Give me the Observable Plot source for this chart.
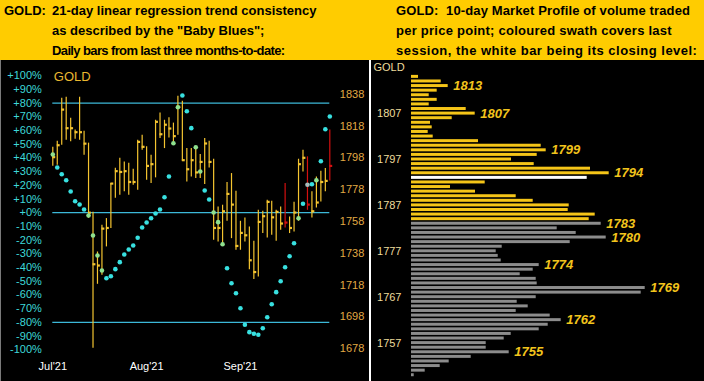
<!DOCTYPE html>
<html><head><meta charset="utf-8">
<script src="https://cdn.jsdelivr.net/npm/d3@7"></script>
<script src="https://cdn.jsdelivr.net/npm/@observablehq/plot@0.6"></script>
<style>
body{margin:0;background:#000;}
#wrap{position:relative;width:704px;height:381px;background:#000;overflow:hidden;font-family:"Liberation Sans",Arial,sans-serif;}
#hdr{position:absolute;left:0;top:0;width:704px;height:60px;background:#ffcc00;}
.h{position:absolute;top:1px;font-weight:bold;font-size:13px;line-height:20px;color:#000;white-space:pre;}
.h span{display:block;}
#divider{position:absolute;left:369px;top:60px;width:1.5px;height:321px;background:#fff;}
#edge{position:absolute;left:0;top:60px;width:1px;height:321px;background:#7a7a7a;}
</style></head><body>
<div id="wrap">
  <div id="hdr">
    <div class="h" style="left:4px">GOLD:</div>
    <div class="h" style="left:52px"><span>21-day linear regression trend consistency</span><span>as described by the "Baby Blues";</span><span style="letter-spacing:-0.62px">Daily bars from last three months-to-date:</span></div>
    <div class="h" style="left:396px"><span style="letter-spacing:0.13px">GOLD:  10-day Market Profile of volume traded</span><span style="letter-spacing:0.25px">per price point; coloured swath covers last</span><span style="letter-spacing:0.48px">session, the white bar being its closing level:</span></div>
  </div>
  <div id="left" style="position:absolute;left:0;top:60px;width:366px;height:321px;"></div>
  <div id="right" style="position:absolute;left:368px;top:60px;width:336px;height:321px;"></div>
  <div id="divider"></div>
  <div id="edge"></div>
</div>
<script>
// ---------- Left panel data: daily bars (price) ----------
const high  = [1804.7,1808.4,1835.5,1836.1,1822.9,1815.4,1836.1,1814.7,1807.2,1763.8,
               1738.8,1755.6,1759.8,1781.8,1791.5,1797.7,1795.4,1794.6,1790.8,1809.1,
               1812.2,1804.9,1799.6,1821.6,1826.2,1821.6,1823.1,1819.8,1836.7,1833.6,
               1803.8,1803.8,1803.8,1800.1,1810.1,1808.4,1797.1,1767.1,1768.2,1782.5,
               1788.1,1777.0,1758.1,1760.2,1754.5,1745.5,1765.0,1764.4,1771.3,1770.7,
               1765.0,1767.1,1781.8,1760.8,1770.1,1797.1,1802.8,1798.6,1776.6,1786.0,
               1789.6,1791.3,1815.4];
const low   = [1792.7,1793.3,1805.9,1809.1,1808.1,1809.7,1809.1,1799.6,1760.0,1678.3,
               1718.5,1724.2,1742.0,1753.5,1772.6,1774.5,1776.6,1774.5,1780.8,1777.6,
               1802.8,1783.9,1781.8,1785.4,1810.1,1803.8,1810.5,1808.0,1812.2,1795.9,
               1782.8,1786.0,1785.0,1785.0,1781.2,1791.6,1746.2,1745.1,1744.1,1758.1,
               1747.2,1739.9,1739.9,1745.1,1727.7,1721.5,1723.1,1750.4,1747.6,1749.3,
               1745.5,1752.4,1753.9,1750.4,1751.4,1758.1,1789.1,1765.0,1760.2,1766.5,
               1770.3,1776.6,1783.5];
const close = [1798.4,1805.9,1828.3,1816.6,1816.6,1814.1,1814.1,1806.9,1763.5,1731.1,
               1730.3,1753.5,1753.9,1781.8,1789.6,1789.1,1789.6,1782.8,1782.8,1808.0,
               1804.9,1792.9,1794.0,1820.6,1812.8,1818.8,1816.4,1811.6,1830.0,1796.5,
               1790.8,1796.5,1788.8,1795.4,1807.0,1795.4,1753.9,1753.9,1764.4,1775.3,
               1768.6,1742.6,1750.8,1749.3,1733.6,1726.2,1757.7,1761.3,1770.3,1760.6,
               1764.0,1756.7,1757.3,1753.9,1763.6,1794.0,1798.0,1768.6,1764.4,1769.9,
               1782.8,1783.5,1792.9];
const redSessions = [52, 57, 62];
// 21-day linear regression trend consistency ("Baby Blues"), percent
const trend = [42.5,33.0,28.1,23.7,15.5,8.4,6.0,2.3,-2.0,-16.6,
               -31.2,-42.2,-47.8,-46.4,-41.2,-36.1,-30.5,-26.9,-23.9,-18.3,
               -10.8,-7.2,-4.0,-0.6,2.3,11.3,26.4,50.7,77.0,85.5,
               74.1,61.7,47.8,30.1,16.2,9.6,0.1,-6.9,-23.0,-40.5,
               -51.5,-58.8,-69.7,-81.8,-87.2,-88.4,-89.1,-84.3,-76.3,-66.8,
               -58.0,-50.0,-39.8,-31.8,-22.3,-4.0,6.5,20.4,20.8,23.7,
               37.6,60.9,70.2];
const xTickIdx = [0, 21, 42];
const xTickLabels = ["Jul'21", "Aug'21", "Sep'21"];
const pctTicks = d3.range(-100, 101, 10);
const pctRefLines = [80, 0, -80];
const priceTicks = [1678,1698,1718,1738,1758,1778,1798,1818,1838];

// ---------- Right panel data: 10-day market profile ----------
const profilePrices = d3.range(1815, 1749, -1);
const profileVolumes = [7,29.7,36.7,25.7,17.7,25.7,17.7,54.7,63.7,40.7,
                        19,20.7,16.7,21.7,67,129.7,134.7,125.7,100,122.7,
                        179,197.7,175.7,73.7,39,64,104.7,121.7,157.7,156.7,
                        183.7,177.7,189.7,145.7,164.7,194.7,158.7,90.7,84.7,86.7,
                        89.7,127.7,121.7,108.7,124.7,125.7,233.7,229.7,124.7,105.7,
                        116.7,104.7,138.7,149.7,136.7,127.7,99.7,92.7,74.7,74.7,
                        97.7,59.7,37.7,28.7,13.7,2.7];
const profileLabels = [1813,1807,1799,1794,1783,1780,1774,1769,1762,1755];
const profileTicks = [1807,1797,1787,1777,1767,1757];

// ---------- colours / styles ----------
const YEL = "#f4c430", RED = "#d41010", CYAN = "#38e0e0", GREEN = "#8ee08e", GREY_DOT = "#a8bcbc";
const FONT = "Liberation Sans, Arial, sans-serif";
const plain = d => String(d);

// ---------- Left panel ----------
const W = 366, H = 321, mL = 52.3, mR = 36.7, mT = 15.2, mB = 31.8;
const base = {width: W, height: H, marginLeft: mL, marginRight: mR, marginTop: mT, marginBottom: mB,
  color: {type: "identity"},
  style: {background: "transparent", fontFamily: FONT}};

const bars = high.map((h, i) => ({i, high: h, low: low[i], close: close[i], red: redSessions.includes(i)}));
const trendData = trend.map((t, i) => ({i, t}));

const layerA = Plot.plot({...base,
  style: {background: "#000", fontFamily: FONT},
  x: {domain: [0, 62]},
  y: {domain: [-100, 100]},
  marks: [
    Plot.ruleY(pctRefLines, {stroke: "#3cb8d8", strokeWidth: 1.3}),
    Plot.axisY({ticks: pctTicks, tickSize: 0, tickPadding: 11, color: "#3ed8d8", fontSize: 11,
      tickFormat: d => (d >= 0 ? "+" : "") + d + "%"}),
    Plot.axisX({ticks: xTickIdx, tickSize: 0, tickPadding: 12, color: "#fff", fontSize: 11,
      tickFormat: d => xTickLabels[xTickIdx.indexOf(d)]}),
    Plot.text(["GOLD"], {frameAnchor: "top-left", dx: 1, dy: 1, textAnchor: "start", lineAnchor: "middle",
      fill: "#eab830", fontSize: 13})
  ]
});

const layerB = Plot.plot({...base,
  x: {domain: [0, 62], axis: null},
  y: {domain: [1677.4, 1849.6]},
  marks: [
    Plot.ruleX(bars, {x: "i", y1: "low", y2: "high", stroke: d => d.red ? RED : YEL, strokeWidth: 1.2}),
    Plot.ruleY(bars, {y: "close", x1: "i", x2: d => d.i + 0.65, stroke: d => d.red ? RED : YEL, strokeWidth: 2.2}),
    Plot.axisY({anchor: "right", ticks: priceTicks, tickFormat: plain, tickSize: 0, tickPadding: 10, color: "#e2aa44", fontSize: 11})
  ]
});

const yPct = layerA.scale("y"), yPrice = layerB.scale("y");
function dotColor(d) {
  const b = bars[d.i];
  const py = yPct.apply(d.t);
  const top = yPrice.apply(b.high), bot = yPrice.apply(b.low);
  const inside = py >= top - 2 && py <= bot + 2;
  if (!inside) return CYAN;
  return b.red ? GREY_DOT : GREEN;
}
const layerC = Plot.plot({...base,
  x: {domain: [0, 62], axis: null},
  y: {domain: [-100, 100], axis: null},
  marks: [
    Plot.dot(trendData, {x: "i", y: "t", r: 2.3, fill: dotColor, stroke: null})
  ]
});

const left = document.getElementById("left");
for (const el of [layerA, layerB, layerC]) { el.style.position = "absolute"; el.style.left = "0"; el.style.top = "0"; left.appendChild(el); }

// ---------- Right panel ----------
const last = bars[bars.length - 1];
const profile = profilePrices.map((p, k) => ({p, v: profileVolumes[k],
  fill: p === Math.round(last.close) ? "#ffffff" : (p >= last.low && p <= last.high ? "#f5c518" : "#8c8c8c")}));
const labelRows = profile.filter(d => profileLabels.includes(d.p));

const right = Plot.plot({
  width: 336, height: 321, marginLeft: 43, marginRight: 0, marginTop: 14.085, marginBottom: 3.97,
  x: {domain: [0, 293], axis: null},
  y: {type: "band", domain: profilePrices, paddingInner: 0.35, paddingOuter: 0.175, round: false, label: null},
  color: {type: "identity"},
  style: {background: "#000", fontFamily: FONT},
  marks: [
    Plot.barX(profile, {x: "v", y: "p", fill: "fill"}),
    Plot.text(labelRows, {x: "v", y: "p", text: d => String(d.p), dx: 5, textAnchor: "start",
      fill: "#f2c41c", fontSize: 13, fontWeight: "bold", fontStyle: "italic"}),
    Plot.axisY({ticks: profileTicks, tickFormat: plain, tickSize: 0, tickPadding: 10, color: "#eedc9c", fontSize: 11, label: null}),
    Plot.text(["GOLD"], {frameAnchor: "top-left", dx: -38, dy: -7, textAnchor: "start", lineAnchor: "middle",
      fill: "#eedc9c", fontSize: 11})
  ]
});
document.getElementById("right").appendChild(right);
</script>
</body></html>
